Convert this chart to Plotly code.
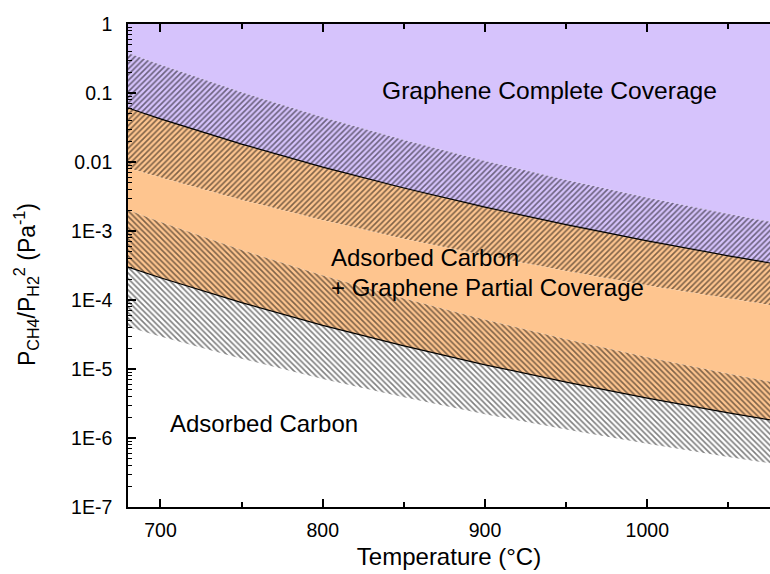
import plotly.graph_objects as go

# Temperature (°C)
temps = [680, 700, 750, 800, 850, 900, 950, 1000, 1050, 1080]

# Upper limit of the plot (top of graphene complete coverage region)
top_edge = [1.0, 1.0, 1.0, 1.0, 1.0, 1.0, 1.0, 1.0, 1.0, 1.0]

# Boundaries, P_CH4/P_H2^2 (Pa^-1), from top to bottom
graphene_upper_dotted = [0.3802, 0.2562, 0.1022, 0.04439, 0.02077, 0.01037, 5.481e-3, 3.044e-3, 1.769e-3, 1.301e-3]
graphene_solid = [0.06067, 0.04222, 0.01815, 8.44e-3, 4.202e-3, 2.220e-3, 1.236e-3, 7.202e-4, 4.372e-4, 3.299e-4]
graphene_lower_dotted = [8.185e-3, 5.941e-3, 2.818e-3, 1.433e-3, 7.736e-4, 4.403e-4, 2.624e-4, 1.628e-4, 1.048e-4, 8.17e-5]
carbon_upper_dotted = [2.014e-3, 1.348e-3, 5.292e-4, 2.267e-4, 1.047e-4, 5.167e-5, 2.701e-5, 1.486e-5, 8.551e-6, 6.259e-6]
carbon_solid = [3.006e-4, 2.102e-4, 9.140e-5, 4.294e-5, 2.158e-5, 1.150e-5, 6.449e-6, 3.786e-6, 2.313e-6, 1.752e-6]
carbon_lower_dotted = [4.064e-5, 2.955e-5, 1.406e-5, 7.172e-6, 3.885e-6, 2.216e-6, 1.324e-6, 8.237e-7, 5.311e-7, 4.147e-7]

x_tickvals = [700, 800, 900, 1000]
x_minor_tickvals = [750, 850, 950, 1050]
y_tickvals = [1e-7, 1e-6, 1e-5, 1e-4, 1e-3, 1e-2, 1e-1, 1]
y_ticktext = ["1E-7", "1E-6", "1E-5", "1E-4", "1E-3", "0.01", "0.1", "1"]
y_minor_tickvals = [k * 10.0 ** e for e in range(-7, 0) for k in range(2, 10)]

PURPLE = "#D6C3FC"
ORANGE = "#FEC58F"
FONT = "Liberation Sans, Arial, sans-serif"

fig = go.Figure()

def band(y, fillcolor, shape=None, bg=None, name=""):
    kw = dict(x=temps, y=y, mode="lines", line=dict(width=0, color="rgba(0,0,0,0)"),
              fill="tonexty", fillcolor=fillcolor, hoverinfo="skip", showlegend=False, name=name)
    if shape:
        kw["fillpattern"] = dict(shape=shape, fgcolor="black", bgcolor=bg, size=4, solidity=0.4)
    fig.add_trace(go.Scatter(**kw))

fig.add_trace(go.Scatter(x=temps, y=top_edge, mode="lines", line=dict(width=0, color="rgba(0,0,0,0)"),
                         hoverinfo="skip", showlegend=False))
band(graphene_upper_dotted, PURPLE)
band(graphene_solid, PURPLE, "/", PURPLE)
band(graphene_lower_dotted, ORANGE, "/", ORANGE)
band(carbon_upper_dotted, ORANGE)
band(carbon_solid, ORANGE, "\\", ORANGE)
band(carbon_lower_dotted, "rgba(0,0,0,0)", "\\", "rgba(0,0,0,0)")

for yb in (graphene_solid, carbon_solid):
    fig.add_trace(go.Scatter(x=temps, y=yb, mode="lines", line=dict(width=1.2, color="black"),
                             hoverinfo="skip", showlegend=False))

axis_font = dict(family=FONT, size=19.5, color="black")

fig.update_layout(
    width=770, height=574,
    margin=dict(l=128, r=0, t=24, b=67, autoexpand=False),
    paper_bgcolor="white", plot_bgcolor="white",
    font=dict(family=FONT, color="black"),
    xaxis=dict(
        range=[680, 1075.6], showgrid=False, zeroline=False, automargin=False,
        showline=True, linecolor="black", linewidth=1.6, mirror="allticks",
        tickmode="array", tickvals=x_tickvals, ticks="inside", ticklen=8, tickwidth=1.5, tickcolor="black",
        tickfont=axis_font, ticklabelstandoff=5,
        minor=dict(tickmode="array", tickvals=x_minor_tickvals, ticks="inside", ticklen=5, tickwidth=1.5,
                   tickcolor="black", showgrid=False),
        title=dict(text="Temperature (°C)", font=dict(family=FONT, size=24, color="black"), standoff=8),
    ),
    yaxis=dict(
        type="log", range=[-7, 0], showgrid=False, zeroline=False, automargin=False,
        showline=True, linecolor="black", linewidth=1.6, mirror=False,
        tickmode="array", tickvals=y_tickvals, ticktext=y_ticktext,
        ticks="inside", ticklen=8, tickwidth=1.5, tickcolor="black",
        tickfont=axis_font, ticklabelstandoff=10,
        minor=dict(tickmode="array", tickvals=y_minor_tickvals, ticks="inside", ticklen=4, tickwidth=1.2,
                   tickcolor="black", showgrid=False),
    ),
    yaxis2=dict(
        type="log", range=[-7, 0], overlaying="y", side="right", showgrid=False, zeroline=False,
        automargin=False, showline=False, tickmode="array", tickvals=y_tickvals, ticks="inside",
        ticklen=3, tickwidth=1.5, tickcolor="black", showticklabels=False,
    ),
)

ann_font = dict(family=FONT, size=24, color="black")
fig.add_annotation(text="Graphene Complete Coverage", x=940.0, y=-0.957, xref="x", yref="y",
                   showarrow=False, font=dict(family=FONT, size=24.6, color="black"),
                   xanchor="center", yanchor="middle")
fig.add_annotation(text="Adsorbed Carbon", x=804.0, y=-3.391, xref="x", yref="y",
                   showarrow=False, font=ann_font, xanchor="left", yanchor="middle")
fig.add_annotation(text="+ Graphene Partial Coverage", x=804.0, y=-3.812, xref="x", yref="y",
                   showarrow=False, font=ann_font, xanchor="left", yanchor="middle")
fig.add_annotation(text="Adsorbed Carbon", x=704.8, y=-5.797, xref="x", yref="y",
                   showarrow=False, font=ann_font, xanchor="left", yanchor="middle")
fig.add_annotation(text="P<sub>CH4</sub>/P<sub>H2</sub><sup>2</sup> (Pa<sup>-1</sup>)",
                   x=-0.1589, y=0.4617, xref="paper", yref="paper", textangle=-90,
                   showarrow=False, font=dict(family=FONT, size=23, color="black"),
                   xanchor="center", yanchor="middle")

fig.write_html("out.html", config={"displayModeBar": False},
               post_script="document.body.style.margin='0';document.body.style.overflow='hidden';")
